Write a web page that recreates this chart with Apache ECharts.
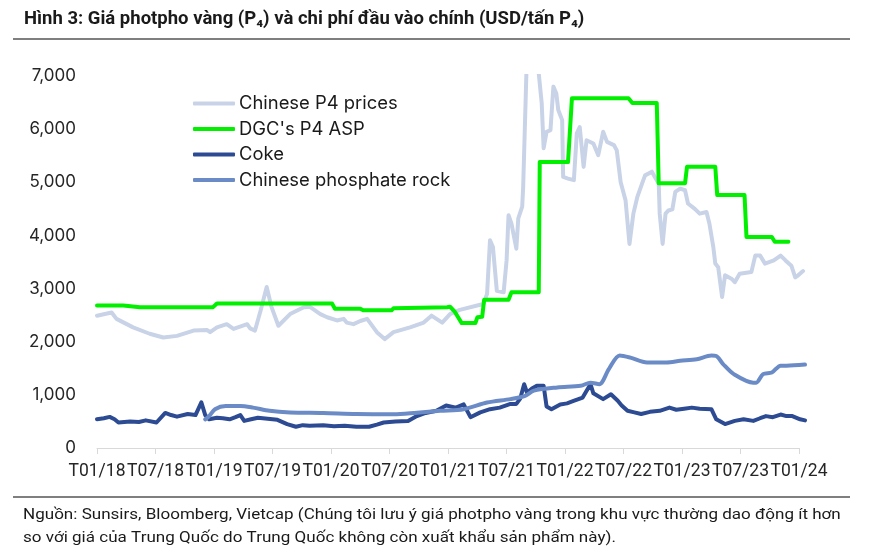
<!DOCTYPE html>
<html>
<head>
<meta charset="utf-8">
<script src="https://cdn.jsdelivr.net/npm/echarts@6/dist/echarts.min.js"></script>
<style>
html,body{margin:0;padding:0;background:#fff;}
#c{width:874px;height:555px;}
</style>
</head>
<body>
<div id="c"></div>
<script>
// ---- Axis tick labels (x in months since Jan 2018) ----
const tickLabels = ['T01/18','T07/18','T01/19','T07/19','T01/20','T07/20','T01/21','T07/21','T01/22','T07/22','T01/23','T07/23','T01/24'];
const tickMonths = [0,6,12,18,24,30,36,42,48,54,60,66,72];

// ---- Chinese P4 prices (USD/t) ----
const p4Months = [0.0,1.5,2.0,3.7,5.4,6.8,8.2,9.9,11.3,11.6,12.3,13.3,14.0,15.4,15.7,16.2,16.8,17.4,17.9,18.6,19.8,21.2,21.8,22.9,23.6,24.6,25.3,25.6,26.3,27.0,27.7,28.7,29.5,30.4,32.1,33.5,34.3,35.4,36.2,37.2,39.6,40.0,40.3,40.6,41.0,41.7,42.0,42.2,42.5,43.0,43.2,43.6,43.7,44.1,45.0,45.6,45.8,46.1,46.5,46.8,47.1,47.3,47.7,47.8,48.3,48.9,49.2,49.5,49.9,50.2,50.9,51.4,51.9,52.3,53.0,53.3,53.7,54.2,54.6,55.0,55.4,55.9,56.2,56.9,57.2,57.6,57.7,58.0,58.3,58.6,59.0,59.3,59.8,60.3,60.6,61.3,61.8,62.5,62.8,63.2,63.4,63.7,64.1,64.4,65.1,65.4,65.9,67.1,67.5,68.0,68.5,69.4,70.1,70.6,71.2,71.6,71.9,72.4];
const p4Prices = [2490,2550,2430,2270,2150,2080,2110,2210,2220,2180,2270,2330,2240,2330,2250,2210,2600,3030,2650,2300,2520,2650,2660,2520,2460,2400,2430,2360,2330,2390,2430,2180,2050,2180,2270,2360,2490,2360,2520,2600,2710,2900,3910,3780,2960,2930,3530,4380,4220,3750,4320,4540,4910,7500,7600,6490,5640,5950,5980,6800,6670,6360,6170,5100,5070,5040,5920,6040,5290,5790,5730,5510,5950,5760,5700,5600,5000,4660,3840,4410,4720,4980,5130,5200,5100,4980,4410,3840,4410,4470,4490,4820,4880,4850,4600,4500,4410,4440,4220,3780,3470,3400,2840,3250,3180,3120,3280,3310,3620,3620,3470,3530,3620,3530,3430,3210,3250,3330];

// ---- DGC's P4 ASP (USD/t) ----
const dgcMonths = [0.0,2.7,4.4,11.9,12.3,24.1,24.4,27.0,27.3,30.2,30.4,35.9,36.2,36.7,37.4,38.8,39.0,39.5,39.7,42.2,42.5,45.3,45.4,48.3,48.7,54.5,54.9,57.4,57.6,60.3,60.5,63.4,63.6,66.4,66.6,69.2,69.5,70.9];
const dgcPrices = [2680,2680,2650,2650,2720,2720,2620,2620,2590,2590,2630,2650,2660,2560,2350,2350,2460,2470,2790,2790,2930,2930,5380,5380,6580,6580,6490,6490,4980,4980,5290,5290,4760,4760,3970,3970,3880,3880];

// ---- Coke (USD/t) ----
const cokeMonths = [0.0,0.7,1.3,1.8,2.2,3.4,4.3,5.0,6.1,7.0,7.6,8.2,9.3,10.1,10.7,11.1,11.5,12.3,12.9,13.6,14.2,14.7,15.1,15.8,16.5,17.5,18.5,19.5,20.4,21.1,21.8,23.2,24.3,25.4,26.6,27.9,28.7,29.4,30.6,31.9,32.8,33.7,34.8,35.8,36.8,37.6,38.3,39.3,40.3,41.3,42.4,43.0,43.4,43.8,44.1,44.6,45.1,45.8,46.1,46.6,47.5,48.2,48.8,49.8,50.6,50.9,51.9,52.7,53.4,53.8,54.4,55.1,55.8,56.7,57.7,58.7,59.4,60.2,61.0,61.8,63.0,63.5,64.4,65.4,66.3,67.3,68.0,68.6,69.3,70.1,70.7,71.3,72.1,72.6];
const cokePrices = [540,560,585,540,480,500,490,520,480,660,620,590,640,620,860,620,540,570,560,540,580,620,510,540,570,550,530,450,400,430,420,430,410,420,400,400,440,480,500,510,600,660,700,800,760,820,580,670,730,760,830,830,930,1200,1040,1120,1170,1170,780,730,820,840,880,950,1200,1030,920,1010,890,800,700,670,640,680,700,760,720,740,760,740,730,540,450,510,540,510,560,600,580,630,600,600,540,520];

// ---- Chinese phosphate rock (USD/t) ----
const rockMonths = [11.1,11.5,12.1,13.2,14.7,16.0,17.7,19.8,23.2,26.6,30.4,32.8,35.2,37.6,40.0,42.4,43.9,44.8,47.2,49.6,50.6,51.5,52.5,53.6,54.7,56.4,58.4,59.8,61.5,63.0,63.5,64.2,65.3,67.3,67.6,68.3,69.2,70.1,70.7,72.6];
const rockPrices = [540,600,730,790,790,760,700,670,660,640,635,665,700,730,855,920,980,1080,1140,1170,1230,1200,1490,1740,1700,1610,1610,1640,1670,1740,1730,1580,1390,1230,1230,1390,1420,1550,1550,1570];

const seriesNames = ['Chinese P4 prices', "DGC's P4 ASP", 'Coke', 'Chinese phosphate rock'];
const seriesColors = ['#c9d3e7', '#00f000', '#2c4b92', '#6b8bc6'];

const titleText = 'Hình 3: Giá photpho vàng (P\u2084) và chi phí đầu vào chính (USD/tấn P\u2084)';
const noteLine1 = 'Nguồn: Sunsirs, Bloomberg, Vietcap (Chúng tôi lưu ý giá photpho vàng trong khu vực thường dao động ít hơn';
const noteLine2 = 'so với giá của Trung Quốc do Trung Quốc không còn xuất khẩu sản phẩm này).';

function pairs(xs, ys){ return xs.map((x,i)=>[x, ys[i]]); }

function fitScale(text, font, target){
  const ctx = document.createElement('canvas').getContext('2d');
  ctx.font = font;
  const w = ctx.measureText(text).width;
  return w > 0 ? target / w : 1;
}

const titleFont = 'bold 18.5px Roboto';
const noteFont = '15.5px Roboto';
const titleScale = Math.min(1, fitScale(titleText, titleFont, 604));
const noteScale = Math.min(1.1, fitScale(noteLine1, noteFont, 820));

const chart = echarts.init(document.getElementById('c'), null, {renderer:'canvas'});

const lineData = [
  pairs(p4Months, p4Prices),
  pairs(dgcMonths, dgcPrices),
  pairs(cokeMonths, cokePrices),
  pairs(rockMonths, rockPrices)
];

const option = {
  animation: false,
  backgroundColor: '#ffffff',
  textStyle: { fontFamily: 'Inter, Roboto, sans-serif' },
  grid: [
    { left: 97, right: 69, top: 76, bottom: 107 },
    { left: 97, right: 75, top: 76, bottom: 107 }
  ],
  xAxis: [
    { gridIndex: 0, type: 'value', min: 0, max: 72.6, show: false },
    { gridIndex: 1, type: 'value', min: 0, max: 72, interval: 6,
      axisLine: { show: true, lineStyle: { color: '#d9d9d9', width: 1 } },
      axisTick: { show: true, length: 6, lineStyle: { color: '#d9d9d9', width: 1 } },
      splitLine: { show: false },
      axisLabel: {
        margin: 15, fontSize: 17.5, color: '#262626', fontFamily: 'Roboto',
        formatter: v => { const i = tickMonths.indexOf(v); return i >= 0 ? tickLabels[i] : ''; }
      }
    }
  ],
  yAxis: [
    { gridIndex: 0, type: 'value', min: 0, max: 7000, interval: 1000,
      axisLine: { show: false }, axisTick: { show: false }, splitLine: { show: false },
      axisLabel: { margin: 21, fontSize: 17, color: '#262626', fontFamily: 'Inter',
        formatter: v => v.toLocaleString('en-US') }
    },
    { gridIndex: 1, type: 'value', min: 0, max: 7000, show: false }
  ],
  legend: {
    orient: 'vertical', left: 188, top: 88.5, padding: 5,
    itemWidth: 42, itemHeight: 4, itemGap: 5.5, icon: 'roundRect',
    textStyle: { fontFamily: 'Inter', fontSize: 18.4, color: '#1a1a1a', lineHeight: 20, padding: [0,0,0,-1] },
    data: seriesNames
  },
  series: seriesNames.map((name, i) => ({
    name: name, type: 'line', xAxisIndex: 0, yAxisIndex: 0,
    data: lineData[i], showSymbol: false, symbol: 'none',
    smooth: i === 3 ? 0.3 : false,
    color: seriesColors[i],
    lineStyle: { width: 4, color: seriesColors[i], cap: 'round', join: 'round' },
    clip: true
  })),
  graphic: [
    { type: 'text', left: 24, top: 10, scaleX: titleScale, originX: 0,
      style: { text: titleText, font: titleFont, fill: '#1a1a1a' } },
    { type: 'line', shape: { x1: 13, y1: 39, x2: 850, y2: 39 }, style: { stroke: '#7f7f7f', lineWidth: 2 } },
    { type: 'line', shape: { x1: 13, y1: 497, x2: 850, y2: 497 }, style: { stroke: '#7f7f7f', lineWidth: 2 } },
    { type: 'text', x: 23, y: 507, scaleX: noteScale,
      style: { text: noteLine1, font: noteFont, fill: '#1a1a1a' } },
    { type: 'text', x: 23, y: 530, scaleX: noteScale,
      style: { text: noteLine2, font: noteFont, fill: '#1a1a1a' } }
  ]
};
chart.setOption(option);
</script>
</body>
</html>
